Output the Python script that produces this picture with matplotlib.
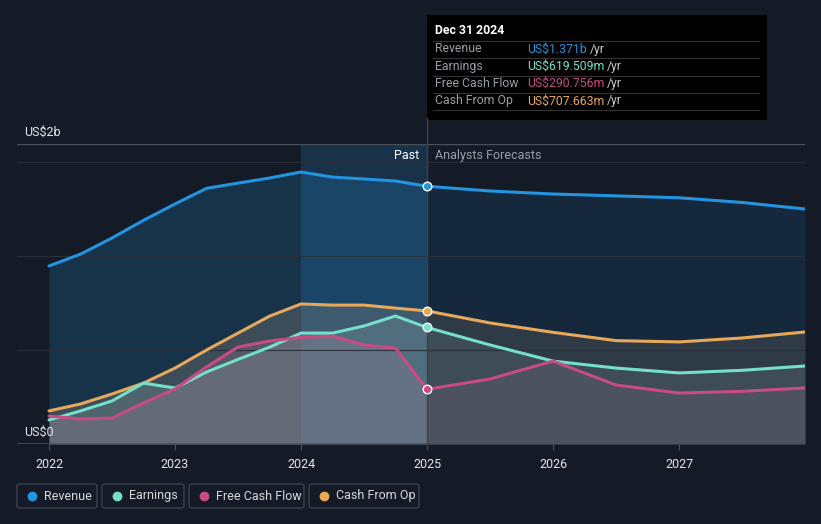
import matplotlib.pyplot as plt
from matplotlib.patches import FancyBboxPatch, Rectangle

plt.rcParams['font.family'] = ['Roboto', 'DejaVu Sans']

years = [2022.0, 2022.25, 2022.5, 2022.75, 2023.0, 2023.25, 2023.5, 2023.75, 2024.0,
         2024.25, 2024.5, 2024.75, 2025.0, 2025.5, 2026.0, 2026.5, 2027.0, 2027.5, 2028.0]
revenue = [0.947, 1.01, 1.096, 1.19, 1.277, 1.36, 1.388, 1.415, 1.447,
           1.42, 1.41, 1.399, 1.371, 1.346, 1.33, 1.32, 1.31, 1.285, 1.25]
earnings = [0.128, 0.176, 0.229, 0.324, 0.298, 0.383, 0.45, 0.515, 0.59,
            0.59, 0.628, 0.681, 0.62, 0.527, 0.441, 0.404, 0.378, 0.392, 0.415]
fcf = [0.149, 0.133, 0.138, 0.218, 0.293, 0.41, 0.516, 0.548, 0.567,
       0.574, 0.527, 0.51, 0.291, 0.346, 0.441, 0.314, 0.271, 0.28, 0.298]
cfo = [0.176, 0.213, 0.266, 0.324, 0.404, 0.5, 0.59, 0.68, 0.745,
       0.739, 0.739, 0.723, 0.708, 0.644, 0.594, 0.55, 0.543, 0.564, 0.596]
tick_years = [2022, 2023, 2024, 2025, 2026, 2027]
now = 2025.0

bg = '#151b26'
c_rev, c_earn, c_fcf, c_cfo = '#2394df', '#74e0c9', '#c84b84', '#e8a85a'

fig = plt.figure(figsize=(8.21, 5.24), dpi=100, facecolor=bg)
ax = fig.add_axes([17 / 821, 1 - 444 / 524, 788 / 821, 300 / 524])
ax.set_facecolor(bg)
ax.set_xlim(2021.746, 2028.0)
ax.set_ylim(0, 1.596)

ip = years.index(now)
past_x, fc_x = years[:ip + 1], years[ip:]

# highlight band for last past year
ax.axvspan(2024.0, now, color='#2068a0', alpha=0.3, lw=0, zorder=1)

# revenue area
ax.fill_between(past_x, revenue[:ip + 1], 0, color=c_rev, alpha=0.2, lw=0, zorder=2)
ax.fill_between(fc_x, revenue[ip:], 0, color=c_rev, alpha=0.12, lw=0, zorder=2)

# other areas: grey tinted with each series colour
for vals, col in [(cfo, c_cfo), (earnings, c_earn), (fcf, c_fcf)]:
    ax.fill_between(past_x, vals[:ip + 1], 0, color='#a0a0a8', alpha=0.17, lw=0, zorder=2)
    ax.fill_between(past_x, vals[:ip + 1], 0, color=col, alpha=0.08, lw=0, zorder=2)
    ax.fill_between(fc_x, vals[ip:], 0, color='#8a8a92', alpha=0.12, lw=0, zorder=2)
    ax.fill_between(fc_x, vals[ip:], 0, color=col, alpha=0.06, lw=0, zorder=2)

for vals, col in [(revenue, c_rev), (cfo, c_cfo), (earnings, c_earn), (fcf, c_fcf)]:
    ax.plot(years, vals, color=col, lw=2.2, zorder=4, solid_capstyle='round')
    ax.scatter([now], [vals[ip]], s=38, color=col, edgecolor='white', lw=1, zorder=5)

for g in [0.5, 1.0, 1.5]:
    ax.axhline(g, color='#2a303b', lw=0.8, zorder=3)
ax.axhline(1.596, color='#4a505a', lw=1, zorder=3)
ax.axhline(0, color='#4a505a', lw=1.2, zorder=3)
ax.axvline(now, color='#3a4150', lw=1, zorder=3)

for s in ax.spines.values():
    s.set_visible(False)
ax.set_yticks([])
ax.set_xticks(tick_years)
ax.set_xticklabels([str(t) for t in tick_years], color='#e6e6e6', fontsize=9)
ax.tick_params(axis='x', length=4, color='#4a505a', pad=6)

fig.text(24 / 821, 1 - 132 / 524, 'US$2b', color='#e6e6e6', fontsize=9, va='center')
fig.text(24 / 821, 1 - 432 / 524, 'US$0', color='#e6e6e6', fontsize=9, va='center')
fig.text(419 / 821, 1 - 156 / 524, 'Past', color='#ffffff', fontsize=9, va='center', ha='right')
fig.text(435 / 821, 1 - 156 / 524, 'Analysts Forecasts', color='#9aa0a8', fontsize=9, va='center')

# vertical line up to tooltip
fig.add_artist(plt.Line2D([427 / 821, 427 / 821], [1 - 144 / 524, 1 - 118 / 524],
                          color='#3a4150', lw=1))

# tooltip
fig.add_artist(Rectangle((427 / 821, 1 - 120 / 524), 340 / 821, 105 / 524,
                         facecolor='black', edgecolor='none'))
fig.text(435 / 821, 1 - 31 / 524, 'Dec 31 2024', color='white', fontsize=8.8,
         fontweight='bold', va='center')
rows = [('Revenue', 'US$1.371b', c_rev), ('Earnings', 'US$619.509m', c_earn),
        ('Free Cash Flow', 'US$290.756m', c_fcf), ('Cash From Op', 'US$707.663m', c_cfo)]
for i, (lab, val, col) in enumerate(rows):
    yy = 1 - (49 + i * 17.3) / 524
    fig.text(435 / 821, yy, lab, color='#9a9ea6', fontsize=8.8, va='center')
    t = fig.text(527 / 821, yy, val, color=col, fontsize=8.8, va='center')
    fig.canvas.draw()
    bb = t.get_window_extent()
    fig.text((bb.x1 + 3) / 821, yy, '/yr', color='#c8c8c8', fontsize=8.8, va='center')
    ly = 1 - (41 + i * 17.3) / 524
    fig.add_artist(plt.Line2D([433 / 821, 759 / 821], [ly, ly], color='#333', lw=0.8))
ly = 1 - (41 + 4 * 17.3) / 524
fig.add_artist(plt.Line2D([433 / 821, 759 / 821], [ly, ly], color='#333', lw=0.8))

# legend boxes
legend = [('Revenue', c_rev, 17, 97), ('Earnings', c_earn, 102, 184),
          ('Free Cash Flow', c_fcf, 189, 304), ('Cash From Op', c_cfo, 309, 419)]
for lab, col, x0, x1 in legend:
    fig.add_artist(FancyBboxPatch((x0 / 821, 1 - 508 / 524), (x1 - x0) / 821, 24 / 524,
                                  boxstyle='round,pad=0,rounding_size=0.004',
                                  facecolor=bg, edgecolor='#3d434e', lw=1))
    fig.add_artist(plt.Line2D([(x0 + 15) / 821], [1 - 496 / 524], marker='o', ms=6,
                              color=col, mec=col))
    fig.text((x0 + 27) / 821, 1 - 496 / 524, lab, color='#d8d8d8', fontsize=9, va='center')

fig.savefig('out.png', dpi=100, facecolor=bg)
